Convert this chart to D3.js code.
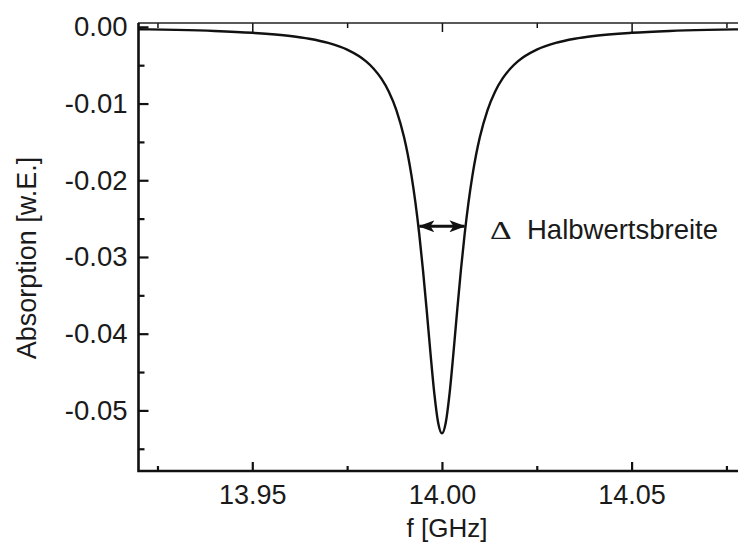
<!DOCTYPE html>
<html>
<head>
<meta charset="utf-8">
<script src="https://cdn.jsdelivr.net/npm/d3@7"></script>
<style>
  body { margin: 0; background: #fff; }
  svg { display: block; font-family: "Liberation Sans", Arial, sans-serif; }
</style>
</head>
<body>
<svg id="chart" width="738" height="545"></svg>
<script>
// resonance curve
var freq = [13.920, 13.930, 13.940, 13.950, 13.960, 13.965, 13.970, 13.975, 13.980, 13.982,
            13.984, 13.986, 13.988, 13.990, 13.991, 13.992, 13.993, 13.994, 13.995, 13.996,
            13.997, 13.998, 13.999, 14.000, 14.001, 14.002, 14.003, 14.004, 14.005, 14.006,
            14.007, 14.008, 14.009, 14.010, 14.012, 14.014, 14.016, 14.018, 14.020, 14.025,
            14.030, 14.035, 14.040, 14.050, 14.060, 14.070, 14.080];
var absorption = [-0.00031, -0.00040, -0.00054, -0.00078, -0.00120, -0.00156, -0.00210, -0.00298, -0.00451, -0.00546,
                  -0.00673, -0.00846, -0.01088, -0.01437, -0.01668, -0.01949, -0.02288, -0.02694, -0.03170, -0.03706,
                  -0.04268, -0.04785, -0.05161, -0.05300, -0.05161, -0.04785, -0.04268, -0.03706, -0.03170, -0.02694,
                  -0.02288, -0.01949, -0.01668, -0.01437, -0.01088, -0.00846, -0.00673, -0.00546, -0.00451, -0.00298,
                  -0.00210, -0.00156, -0.00120, -0.00078, -0.00054, -0.00040, -0.00031];

// axis ticks
var xMajor = [13.95, 14.00, 14.05];
var xMinor = [13.925, 13.975, 14.025, 14.075];
var yMajor = [0, -0.01, -0.02, -0.03, -0.04, -0.05];
var yMinor = [-0.005, -0.015, -0.025, -0.035, -0.045, -0.055];

// half-width marker
var fwhmLeft = 13.9938, fwhmRight = 14.0062, fwhmLevel = -0.026;
var fwhmLabel = "Halbwertsbreite";

var svg = d3.select("#chart");

var x = d3.scaleLinear().domain([13.92, 14.08]).range([138.5, 745.4]);
var y = d3.scaleLinear().domain([-0.0579, 0.0005]).range([471, 23]);

var pts = freq.map(function(f, i) { return [f, absorption[i]]; });

// curve
var line = d3.line()
    .x(function(d) { return x(d[0]); })
    .y(function(d) { return y(d[1]); })
    .curve(d3.curveMonotoneX);

svg.append("path")
    .datum(pts)
    .attr("d", line)
    .attr("fill", "none")
    .attr("stroke", "#111")
    .attr("stroke-width", 2.4);

/*
 * Axes, ticks pointing inwards (Origin style)
 */
function styleAxis(g, w) {
    g.select(".domain").remove();
    g.selectAll(".tick line").attr("stroke", "#111").attr("stroke-width", w);
    g.selectAll(".tick text").attr("fill", "#1a1a1a");
}

// top frame
var topAxis = svg.append("g").attr("transform", "translate(0," + y.range()[1] + ")");
topAxis.append("g").call(d3.axisTop(x).tickValues(xMajor).tickSize(-9).tickFormat(""))
    .call(styleAxis, 1.5);
topAxis.append("g").call(d3.axisTop(x).tickValues(xMinor).tickSize(-5).tickFormat(""))
    .call(styleAxis, 1.5);
svg.append("line")
    .attr("x1", 138).attr("x2", 738)
    .attr("y1", y.range()[1]).attr("y2", y.range()[1])
    .attr("stroke", "#222").attr("stroke-width", 1.6);

// bottom
var bottomAxis = svg.append("g").attr("transform", "translate(0," + y.range()[0] + ")");
bottomAxis.append("g")
    .call(d3.axisBottom(x).tickValues(xMajor).tickSize(-9).tickPadding(14)
        .tickFormat(function(d) { return d.toFixed(2); }))
    .call(styleAxis, 2.2)
    .selectAll("text").attr("font-size", 27).attr("dy", "0.71em");
bottomAxis.append("g").call(d3.axisBottom(x).tickValues(xMinor).tickSize(-5).tickFormat(""))
    .call(styleAxis, 2.2);

// left
var leftAxis = svg.append("g").attr("transform", "translate(" + x.range()[0] + ",0)");
leftAxis.append("g")
    .call(d3.axisLeft(y).tickValues(yMajor).tickSize(-10).tickPadding(11)
        .tickFormat(function(d) { return d.toFixed(2); }))
    .call(styleAxis, 2.2)
    .selectAll("text").attr("font-size", 27.5);
leftAxis.append("g").call(d3.axisLeft(y).tickValues(yMinor).tickSize(-6).tickFormat(""))
    .call(styleAxis, 2.2);

svg.append("path")
    .attr("d", "M" + x.range()[0] + "," + y.range()[1] + "V" + y.range()[0] + "H738")
    .attr("fill", "none")
    .attr("stroke", "#111")
    .attr("stroke-width", 2.6);

// axis titles
svg.append("text")
    .attr("x", 447).attr("y", 537)
    .attr("text-anchor", "middle")
    .attr("font-size", 26)
    .attr("fill", "#1a1a1a")
    .text("f [GHz]");

svg.append("text")
    .attr("transform", "translate(36,258) rotate(-90)")
    .attr("text-anchor", "middle")
    .attr("font-size", 27)
    .attr("fill", "#1a1a1a")
    .text("Absorption [w.E.]");

/*
 * Double arrow across the half width
 */
var defs = svg.append("defs");
defs.append("marker")
    .attr("id", "head")
    .attr("viewBox", "0 0 16 12")
    .attr("refX", 15).attr("refY", 6)
    .attr("markerWidth", 16).attr("markerHeight", 12)
    .attr("markerUnits", "userSpaceOnUse")
    .attr("orient", "auto-start-reverse")
    .append("path")
    .attr("d", "M0,0 L16,6 L0,12 L4,6 Z")
    .attr("fill", "#111");

svg.append("line")
    .attr("x1", x(fwhmLeft) + 1).attr("x2", x(fwhmRight) - 1)
    .attr("y1", y(fwhmLevel)).attr("y2", y(fwhmLevel))
    .attr("stroke", "#111")
    .attr("stroke-width", 3)
    .attr("marker-start", "url(#head)")
    .attr("marker-end", "url(#head)");

// wide, flat delta as in the original
svg.append("text")
    .attr("transform", "translate(490,239) scale(1.35,1)")
    .attr("font-family", "'Liberation Serif', 'Times New Roman', serif")
    .attr("font-size", 25)
    .attr("fill", "#1a1a1a")
    .text("\u0394");

svg.append("text")
    .attr("x", 527).attr("y", 239)
    .attr("font-size", 27.5)
    .attr("fill", "#1a1a1a")
    .text(fwhmLabel);
</script>
</body>
</html>
